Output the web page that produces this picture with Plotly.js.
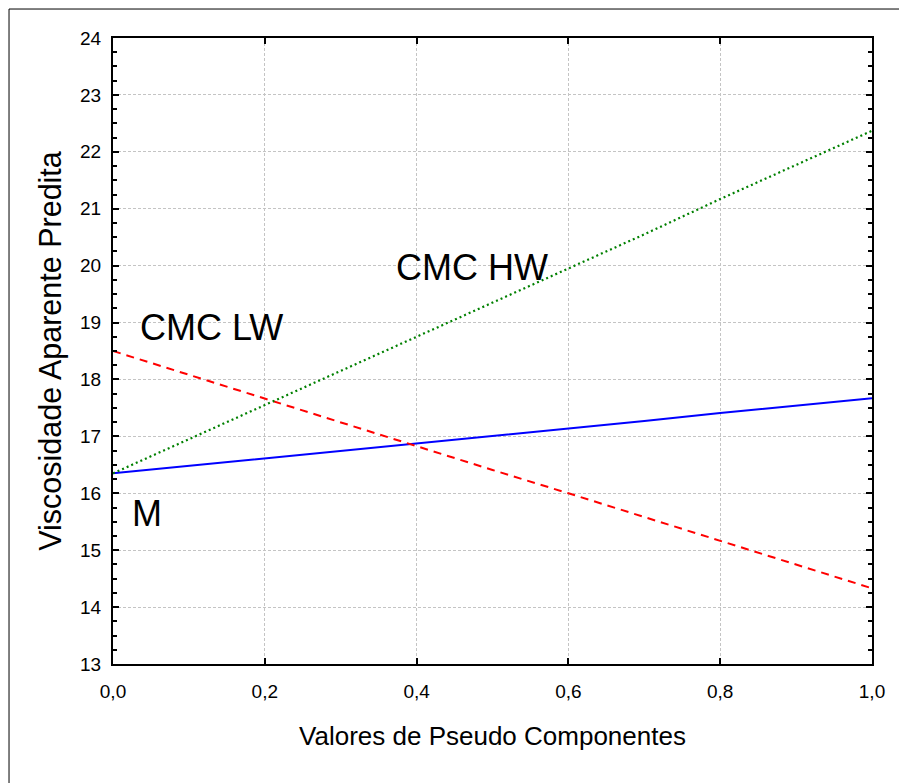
<!DOCTYPE html>
<html>
<head>
<meta charset="utf-8">
<script src="https://cdn.plot.ly/plotly-3.0.1.min.js"></script>
<style>html,body{margin:0;padding:0;background:#fff;}#chart{width:899px;height:783px;}</style>
</head>
<body>
<div id="chart"></div>
<script>
const xValues = [0.0, 0.1, 0.2, 0.3, 0.4, 0.5, 0.6, 0.7, 0.8, 0.9, 1.0];
const seriesM  = [16.35, 16.48, 16.61, 16.75, 16.88, 17.01, 17.14, 17.27, 17.41, 17.54, 17.67];
const seriesHW = [16.35, 16.95, 17.55, 18.15, 18.75, 19.35, 19.95, 20.55, 21.17, 21.77, 22.37];
const seriesLW = [18.50, 18.08, 17.67, 17.25, 16.83, 16.41, 16.00, 15.58, 15.16, 14.75, 14.33];
const xTickVals = [0.0, 0.2, 0.4, 0.6, 0.8, 1.0];
const xTickText = ["0,0", "0,2", "0,4", "0,6", "0,8", "1,0"];
const labelNames = ["CMC HW", "CMC LW", "M"];
const labelX = [0.473, 0.130, 0.045];
const labelY = [19.96, 18.92, 15.65];

const FONT = "Liberation Sans, Arial, sans-serif";

const traces = [
  {x: xValues, y: seriesM, mode: "lines", line: {color: "#0000ff", width: 2}, name: "M"},
  {x: xValues, y: seriesLW, mode: "lines", line: {color: "#ff0000", width: 2, dash: "8px,6px"}, name: "CMC LW"},
  {x: xValues, y: seriesHW, mode: "lines", line: {color: "#008000", width: 2.2, dash: "2px,3px"}, name: "CMC HW"}
];

const annotations = labelNames.map((t, i) => ({
  x: labelX[i], y: labelY[i], xref: "x", yref: "y", text: t, showarrow: false,
  font: {family: FONT, size: 36, color: "#000"}, xanchor: "center", yanchor: "middle"
}));

const layout = {
  width: 899, height: 783,
  margin: {l: 113, r: 27, t: 38, b: 119},
  paper_bgcolor: "#fff", plot_bgcolor: "#fff",
  showlegend: false,
  font: {family: FONT, size: 19, color: "#000"},
  xaxis: {
    range: [0, 1], tickmode: "array", tickvals: xTickVals, ticktext: xTickText,
    showline: true, linecolor: "#000", linewidth: 2, mirror: "ticks",
    ticks: "inside", ticklen: 6, tickwidth: 2, tickcolor: "#000",
    showgrid: true, gridcolor: "#c4c4c4", griddash: "3px,2px", gridwidth: 1,
    zeroline: false,
    tickfont: {family: FONT, size: 19},
    ticklabelstandoff: 9,
    title: {text: "Valores de Pseudo Componentes", font: {family: FONT, size: 26}, standoff: 26}
  },
  xaxis2: {
    overlaying: "x", anchor: "y", side: "bottom",
    range: [0, 1], tickmode: "linear", dtick: 0.1, tick0: 0,
    showline: true, linecolor: "#000", linewidth: 2, mirror: "ticks",
    ticks: "inside", ticklen: 4, tickwidth: 2, tickcolor: "#000",
    showticklabels: false, showgrid: false, zeroline: false
  },
  yaxis: {
    range: [13, 24], dtick: 1, tick0: 13,
    showline: true, linecolor: "#000", linewidth: 2, mirror: "ticks",
    ticks: "inside", ticklen: 6, tickwidth: 2, tickcolor: "#000",
    showgrid: true, gridcolor: "#c4c4c4", griddash: "3px,2px", gridwidth: 1,
    zeroline: false,
    minor: {dtick: 0.25, ticks: "inside", ticklen: 4, tickwidth: 2, tickcolor: "#000", showgrid: false},
    tickfont: {family: FONT, size: 19},
    ticklabelstandoff: 6,
    title: {text: "Viscosidade Aparente Predita", font: {family: FONT, size: 30.5}, standoff: 9}
  },
  annotations: annotations,
  shapes: [
    {type: "rect", xref: "paper", yref: "paper", x0: -0.137, x1: 1.2, y0: -0.3, y1: 1.0463,
     line: {color: "#000", width: 1}, fillcolor: "rgba(0,0,0,0)", layer: "below"}
  ]
};

Plotly.newPlot("chart", traces, layout, {displayModeBar: false, staticPlot: true});
</script>
</body>
</html>
